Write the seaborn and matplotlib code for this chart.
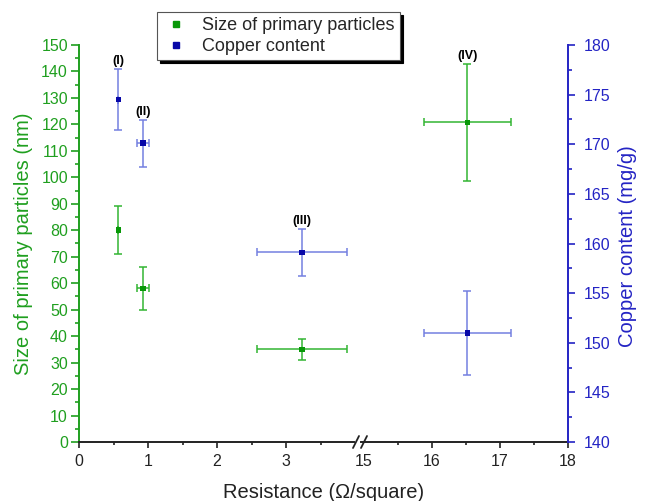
import numpy as np
import pandas as pd
import matplotlib
matplotlib.use("Agg")
import matplotlib.pyplot as plt
import seaborn as sns
from matplotlib.lines import Line2D
from matplotlib.ticker import MultipleLocator

# values
resistance = [0.57, 0.93, 3.23, 16.52]        # ohm/square
resistance_err = [0.0, 0.09, 0.65, 0.64]
size_nm = [80.0, 58.0, 35.0, 120.8]
size_err = [9.0, 8.0, 4.0, 22.0]
copper = [174.5, 170.1, 159.1, 151.0]         # mg/g
copper_err = [3.1, 2.35, 2.4, 4.2]
sample_ids = ["(I)", "(II)", "(III)", "(IV)"]
label_on = ["copper", "copper", "copper", "size"]

df = pd.DataFrame({"x": resistance, "xerr": resistance_err,
                   "size": size_nm, "size_err": size_err,
                   "cu": copper, "cu_err": copper_err,
                   "id": sample_ids, "on": label_on})

sns.set_style("ticks")
plt.rcParams['font.family'] = ['Liberation Sans', 'DejaVu Sans']

GREEN = '#1f9f1f'
GREEN_ERR = '#33b533'
GREEN_MK = '#089808'
BLUE = '#2424c4'
BLUE_ERR = '#7480e0'
BLUE_MK = '#0808a8'
DARK = '#222222'

W, H = 646, 501
fig = plt.figure(figsize=(W / 100, H / 100), dpi=100)


def rect(x0, x1, top=45, bottom=442):
    return [x0 / W, 1 - bottom / H, (x1 - x0) / W, (bottom - top) / H]


ax_l = fig.add_axes(rect(79, 354))
ax_r = fig.add_axes(rect(361, 568))
cu_l = ax_l.twinx()
cu_r = ax_r.twinx()

segments = [(ax_l, cu_l, df["x"] < 5, (0, 275 / 69)),
            (ax_r, cu_r, df["x"] >= 5, (18 - 207 / 68, 18))]

for ax, cu, mask, xlim in segments:
    sub = df[mask]
    ax.errorbar(sub["x"], sub["size"], xerr=sub["xerr"], yerr=sub["size_err"],
                fmt='none', ecolor=GREEN_ERR, elinewidth=1.1, capsize=3,
                capthick=1.1, zorder=2)
    sns.scatterplot(data=sub, x="x", y="size", ax=ax, marker='s', s=16,
                    color=GREEN_MK, edgecolor='none', zorder=3, legend=False)
    cu.errorbar(sub["x"], sub["cu"], xerr=sub["xerr"], yerr=sub["cu_err"],
                fmt='none', ecolor=BLUE_ERR, elinewidth=1.1, capsize=3,
                capthick=1.1, zorder=2)
    sns.scatterplot(data=sub, x="x", y="cu", ax=cu, marker='s', s=16,
                    color=BLUE_MK, edgecolor='none', zorder=3, legend=False)

    for _, r in sub.iterrows():
        if r["on"] == "copper":
            cu.annotate(r["id"], (r["x"], r["cu"] + r["cu_err"]), xytext=(0, 1.5),
                        textcoords='offset points', ha='center', va='bottom',
                        fontsize=9, fontweight='bold', color='black')
        else:
            ax.annotate(r["id"], (r["x"], r["size"] + r["size_err"]), xytext=(0, 1.5),
                        textcoords='offset points', ha='center', va='bottom',
                        fontsize=9, fontweight='bold', color='black')

    ax.set_xlim(*xlim)
    ax.set_ylim(0, 150)
    cu.set_ylim(140, 180)
    ax.set_xlabel('')
    ax.set_ylabel('')
    cu.set_xlabel('')
    cu.set_ylabel('')
    for side in ['top', 'left', 'right', 'bottom']:
        cu.spines[side].set_visible(False)
    ax.spines['top'].set_visible(False)
    ax.spines['right'].set_visible(False)
    ax.spines['bottom'].set_color(DARK)
    ax.spines['bottom'].set_linewidth(1.4)
    ax.xaxis.set_minor_locator(MultipleLocator(0.5))
    ax.tick_params(axis='x', which='major', direction='out', length=4.5, width=1.2,
                   color=DARK, labelcolor=DARK, labelsize=11.5, pad=4)
    ax.tick_params(axis='x', which='minor', direction='out', length=2.5, width=1.2,
                   color=DARK)

# left segment: green size axis
ax_l.set_xticks([0, 1, 2, 3])
ax_l.spines['left'].set_color(GREEN)
ax_l.spines['left'].set_linewidth(1.4)
ax_l.yaxis.set_major_locator(MultipleLocator(10))
ax_l.yaxis.set_minor_locator(MultipleLocator(5))
ax_l.tick_params(axis='y', which='major', direction='out', length=5.5, width=1.2,
                 color=GREEN, labelcolor=GREEN, labelsize=11.5, pad=2.5)
ax_l.tick_params(axis='y', which='minor', direction='out', length=3, width=1.2,
                 color=GREEN)
ax_l.set_ylabel('Size of primary particles (nm)', color=GREEN, fontsize=14.5)
ax_l.yaxis.set_label_coords(-0.166, 0.5)
cu_l.tick_params(axis='y', which='both', left=False, right=False,
                 labelleft=False, labelright=False)

# right segment: blue copper axis
ax_r.spines['left'].set_visible(False)
ax_r.tick_params(axis='y', which='both', left=False, labelleft=False)
ax_r.set_xticks([15, 16, 17, 18])
ax_r.xaxis.get_major_ticks()[0].tick1line.set_visible(False)
cu_r.spines['right'].set_visible(True)
cu_r.spines['right'].set_color(BLUE)
cu_r.spines['right'].set_linewidth(1.4)
cu_r.yaxis.set_major_locator(MultipleLocator(5))
cu_r.yaxis.set_minor_locator(MultipleLocator(2.5))
cu_r.tick_params(axis='y', which='major', direction='out', length=5, width=1.2,
                 color=BLUE, labelcolor=BLUE, labelsize=11.5, pad=6)
cu_r.tick_params(axis='y', which='minor', direction='out', length=3, width=1.2,
                 color=BLUE)
cu_r.set_ylabel('Copper content (mg/g)', color=BLUE, fontsize=14.5)
cu_r.yaxis.set_label_coords((618 - 361) / 207, 0.494)

# axis break marks
for cx in (356, 364):
    fig.add_artist(Line2D([(cx - 3) / W, (cx + 3) / W], [1 - 448 / H, 1 - 436 / H],
                          transform=fig.transFigure, color=DARK, lw=1.3))

fig.text(324 / W, 1 - 498 / H, 'Resistance (\u03a9/square)', ha='center',
         va='baseline', fontsize=14.5, color=DARK)

handles = [Line2D([], [], marker='s', ls='none', color=GREEN_MK, markersize=4),
           Line2D([], [], marker='s', ls='none', color=BLUE_MK, markersize=4)]
leg = fig.legend(handles, ['Size of primary particles', 'Copper content'],
                 loc='upper left', bbox_to_anchor=(157 / W, 1 - 12 / H),
                 borderaxespad=0, fontsize=13, frameon=True, fancybox=False,
                 edgecolor='#555555', framealpha=1,
                 shadow={'color': 'black', 'alpha': 1},
                 handlelength=1.5, handletextpad=0.7, borderpad=0.3,
                 labelspacing=0.2)
leg.get_frame().set_linewidth(0.8)

fig.savefig('out.png', dpi=100)
